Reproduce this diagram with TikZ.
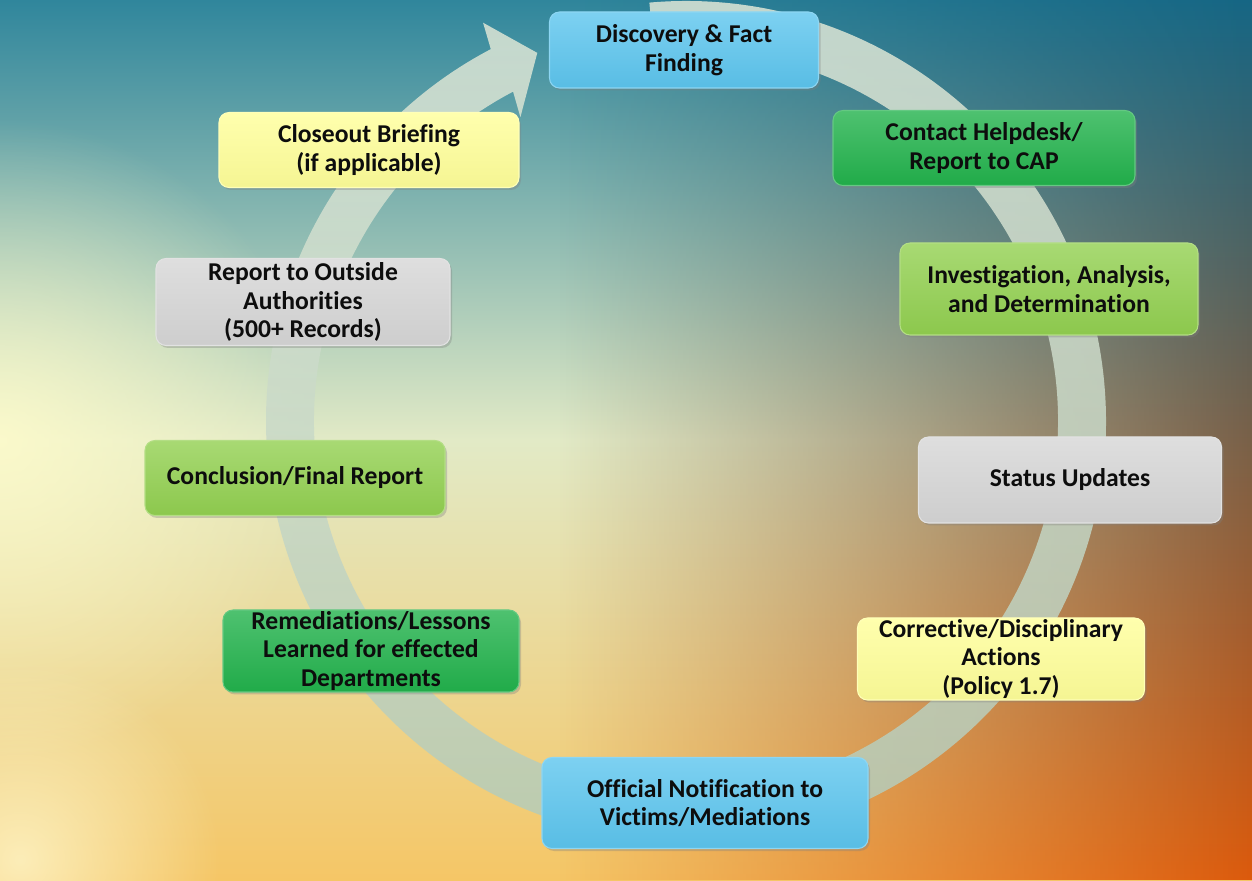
\documentclass[tikz,border=0pt]{standalone}
\usepackage{fontspec}
\setmainfont{Carlito}[Ligatures=NoCommon]
\usetikzlibrary{shadows,fadings,calc}

\definecolor{stblue}{RGB}{92,197,238}
\definecolor{stgreen}{RGB}{34,178,76}
\definecolor{stlime}{RGB}{146,208,80}
\definecolor{stgrey}{RGB}{214,214,214}
\definecolor{styellow}{RGB}{255,255,153}
\definecolor{bgteal}{RGB}{48,134,156}
\definecolor{bgcyan}{RGB}{138,190,192}
\definecolor{bglight}{RGB}{226,234,198}
\definecolor{bgsand}{RGB}{248,228,158}
\definecolor{bgwarm}{RGB}{245,198,102}
\definecolor{bgdeep}{RGB}{22,102,132}
\definecolor{bgbrown}{RGB}{170,118,58}
\definecolor{bgorange}{RGB}{220,90,12}
\definecolor{ringtop}{RGB}{224,232,216}
\definecolor{ringbot}{RGB}{178,202,184}
\tikzfading[name=fadeeast, left color=transparent!100, middle color=transparent!80, right color=transparent!0]
\tikzfading[name=softglow, inner color=transparent!0, outer color=transparent!100]

\begin{document}
\begin{tikzpicture}[x=0.02cm, y=0.02cm,
    stage/.style={rectangle, rounded corners=0.2cm, align=center, inner sep=0pt,
      font=\bfseries\fontsize{14.6}{16.2}\selectfont, text=black!95,
      drop shadow={opacity=0.35, shadow xshift=0.04cm, shadow yshift=-0.05cm}},
    stagefill/.style={top color=#1!80!white, middle color=#1, bottom color=#1!96!black,
      draw=#1!70!white, line width=0.6pt},
    bluestage/.style={stagefill=stblue},
    greenstage/.style={stagefill=stgreen},
    limestage/.style={stagefill=stlime},
    greystage/.style={stagefill=stgrey},
    yellowstage/.style={stagefill=styellow},
    wh/.style 2 args={minimum width=#1*0.02cm, minimum height=#2*0.02cm}]
  \useasboundingbox (0,0) rectangle (1252,880);
  \clip (0,0) rectangle (1252,880);
  % Background
  \shade[top color=bglight, middle color=bgsand, bottom color=bgwarm] (0,0) rectangle (1252,440);
  \shade[top color=bgteal, middle color=bgcyan, bottom color=bglight] (0,440) rectangle (1252,880);
  \shade[top color=bgdeep, middle color=bgbrown, bottom color=bgorange, path fading=fadeeast]
    (560,0) rectangle (1252,880);
  \fill[white!80!yellow, path fading=softglow, fill opacity=0.85] (0,440) circle (320);
  \fill[white!85!yellow, path fading=softglow, fill opacity=0.7] (20,20) circle (200);
  % Cycle arrow
  \coordinate (ctr) at (686,459);
  \shade[top color=ringtop, bottom color=ringbot, fill opacity=0.85]
    ($(ctr)+(95:420)$) arc[start angle=95, end angle=-242.3, radius=420]
    -- ($(ctr)+(117:447)$) -- ($(ctr)+(112:397)$) -- ($(ctr)+(118.6:346)$)
    -- ($(ctr)+(117.7:372)$) arc[start angle=-242.3, end angle=95, radius=372] -- cycle;
  % Stages
  \node[stage, bluestage, wh={269}{76}] (disc) at (684,830) {Discovery \& Fact\\Finding};
  \node[stage, greenstage, wh={302}{75}] (helpdesk) at (984,732) {Contact Helpdesk/\\Report to CAP};
  \node[stage, limestage, wh={298}{92}] (investig) at (1049,591) {Investigation, Analysis,\\and Determination};
  \node[stage, greystage, wh={303}{86}] (status) at (1070,400) {Status Updates};
  \node[stage, yellowstage, wh={287}{82}] (corrective) at (1001,221) {Corrective/Disciplinary\\Actions\\(Policy 1.7)};
  \node[stage, bluestage, wh={326}{91}] (notif) at (705,77) {Official Notification to\\Victims/Mediations};
  \node[stage, greenstage, wh={296}{82}] (remed) at (371,229) {Remediations/Lessons\\Learned for effected\\Departments};
  \node[stage, limestage, wh={300}{75}] (concl) at (295,402) {Conclusion/Final Report};
  \node[stage, greystage, wh={294}{87}] (outside) at (303,578) {Report to Outside\\Authorities\\(500+ Records)};
  \node[stage, yellowstage, wh={300}{75}] (closeout) at (369,730) {Closeout Briefing\\(if applicable)};
\end{tikzpicture}
\end{document}
